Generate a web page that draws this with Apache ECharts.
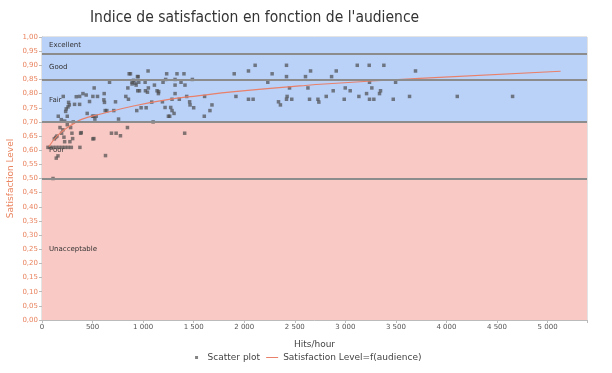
<!DOCTYPE html>
<html>
<head>
<meta charset="utf-8">
<script src="https://cdn.jsdelivr.net/npm/echarts@6/dist/echarts.min.js"></script>
<style>html,body{margin:0;padding:0;background:#fff;}#c{width:612px;height:373px;}</style>
</head>
<body>
<div id="c"></div>
<script>
const titleText = "Indice de satisfaction en fonction de l'audience";
const xName = "Hits/hour";
const yName = "Satisfaction Level";
const scatterName = "Scatter plot";
const curveName = "Satisfaction Level=f(audience)";

const hits = [59,109,122,135,148,141,158,161,178,191,194,207,210,217,224,224,234,240,250,250,257,263,270,276,283,296,303,309,322,339,372,375,382,372,405,437,447,470,500,510,513,516,523,536,549,612,615,618,628,625,641,668,687,710,727,733,757,776,829,845,855,849,862,875,891,891,905,921,931,937,944,951,957,947,964,980,1020,1023,1030,1043,1049,1052,1085,1099,1112,1138,1151,1154,1191,1197,1217,1223,1233,1250,1263,1273,1286,1286,1306,1316,1316,1316,1335,1358,1375,1404,1411,1414,1431,1460,1464,1487,1500,1605,1608,1661,1681,1901,1918,2042,2042,2088,2108,2233,2276,2339,2358,2418,2418,2448,2424,2418,2470,2606,2656,2630,2646,2729,2738,2811,2864,2880,2910,2989,2999,3048,3118,3134,3210,3236,3239,3239,3262,3282,3338,3348,3381,3474,3497,3635,3694,4107,4654,80,110,140,170,200,230,260,290,388,503,503];
const satisfaction = [0.61,0.50,0.64,0.645,0.65,0.572,0.58,0.72,0.68,0.708,0.66,0.672,0.79,0.646,0.63,0.703,0.737,0.746,0.72,0.69,0.753,0.769,0.76,0.63,0.68,0.66,0.641,0.70,0.762,0.789,0.79,0.61,0.66,0.762,0.80,0.795,0.73,0.772,0.72,0.72,0.641,0.82,0.71,0.72,0.79,0.778,0.80,0.769,0.581,0.74,0.74,0.84,0.66,0.74,0.771,0.66,0.71,0.651,0.79,0.68,0.78,0.82,0.87,0.87,0.834,0.84,0.847,0.837,0.83,0.74,0.86,0.86,0.84,0.81,0.81,0.75,0.84,0.81,0.75,0.805,0.88,0.82,0.77,0.70,0.83,0.81,0.80,0.807,0.771,0.84,0.751,0.85,0.87,0.72,0.72,0.751,0.78,0.74,0.73,0.85,0.80,0.83,0.87,0.78,0.84,0.87,0.66,0.83,0.79,0.771,0.76,0.85,0.75,0.72,0.79,0.74,0.76,0.87,0.79,0.88,0.78,0.78,0.90,0.84,0.87,0.771,0.76,0.90,0.86,0.82,0.79,0.78,0.78,0.86,0.88,0.82,0.78,0.78,0.77,0.79,0.86,0.81,0.88,0.78,0.82,0.81,0.90,0.79,0.80,0.90,0.84,0.78,0.82,0.78,0.80,0.81,0.90,0.78,0.84,0.79,0.88,0.79,0.79,0.61,0.61,0.61,0.61,0.61,0.61,0.61,0.61,0.662,0.64,0.79];

const curveX = [68,160,292,391,572,915,1227,1556,1904,2547,2794,3734,5129];
const curveY = [0.612,0.654,0.689,0.709,0.727,0.757,0.778,0.793,0.807,0.827,0.834,0.854,0.879];

const bandNames = ["Excellent","Good","Fair","Poor","Unacceptable"];
const bandLow = [0.94,0.85,0.70,0.50,0.00];
const bandHigh = [1.00,0.94,0.85,0.70,0.50];
const bandLines = [0.50,0.70,0.85,0.94];

const blue = '#bad1f8', pink = '#f8c9c5';
const orange = '#e9845f';

const chart = echarts.init(document.getElementById('c'), null, {renderer:'canvas'});
const scatterData = hits.map((h,i)=>[h, satisfaction[i]]);
const curveData = curveX.map((x,i)=>[x, curveY[i]]);
const legendIcon = 'path://M0,0L0,0M12,4L12,4M4.5,0.5h3v3h-3z';

chart.setOption({
  animation:false,
  backgroundColor:'#fff',
  title:{text:titleText,left:85,top:5,textStyle:{fontFamily:"'Liberation Sans Narrow','DejaVu Sans Condensed',sans-serif",fontSize:15.5,fontWeight:'normal',color:'#333'}},
  grid:{left:42,right:25,top:37,bottom:53,show:true,borderColor:'#c8c8c8',borderWidth:1,outerBoundsMode:'none',containLabel:false},
  legend:{bottom:6,left:'center',itemWidth:12,itemHeight:4,itemGap:6,
    textStyle:{fontSize:9,color:'#444',fontFamily:'DejaVu Sans'},
    data:[{name:scatterName,icon:legendIcon},{name:curveName,icon:'path://M0,1.5h12v1h-12z'}]},
  xAxis:{type:'value',min:0,max:5390,interval:500,name:xName,nameLocation:'middle',nameGap:20,
    nameTextStyle:{fontSize:9,color:'#444',fontFamily:'DejaVu Sans'},
    axisLine:{show:true,lineStyle:{color:'#bbb'}},axisTick:{show:true,length:3,lineStyle:{color:'#bbb'}},
    splitLine:{show:false},
    axisLabel:{fontSize:7,color:'#555',fontFamily:'DejaVu Sans',margin:4,
      formatter:v=> (v%500!==0)?'':String(v).replace(/\B(?=(\d{3})+(?!\d))/g,' ')}},
  yAxis:{type:'value',min:0,max:1,interval:0.05,name:yName,nameLocation:'middle',nameGap:27,nameMoveOverlap:false,
    nameTextStyle:{fontSize:9,color:orange,fontFamily:'DejaVu Sans'},
    axisLine:{show:true,lineStyle:{color:'#bbb'}},axisTick:{show:true,length:3,lineStyle:{color:'#bbb'}},
    splitLine:{show:false},
    axisLabel:{fontSize:7,color:orange,fontFamily:'DejaVu Sans',margin:4,formatter:v=>v.toFixed(2).replace('.',',')}},
  series:[
    {type:'line',name:'bands',data:[],silent:true,z:1,
      markArea:{silent:true,
        data:bandNames.map((n,i)=>[{yAxis:bandLow[i],name:n,itemStyle:{color:i<3?blue:pink}},{yAxis:bandHigh[i]}]),
        label:{show:true,position:'insideLeft',distance:7,fontSize:7,color:'#333',fontFamily:'DejaVu Sans'}},
      markLine:{silent:true,symbol:'none',label:{show:false},lineStyle:{color:'#8c8c8c',width:2,type:'solid'},
        data:bandLines.map(v=>({yAxis:v}))}},
    {type:'scatter',name:scatterName,data:scatterData,symbol:'rect',symbolSize:3.5,z:3,
      itemStyle:{color:'rgba(75,75,75,0.85)'}},
    {type:'line',name:curveName,data:curveData,smooth:true,showSymbol:false,symbol:'none',z:4,
      lineStyle:{color:'#e8806a',width:1.2},itemStyle:{color:'#e8806a'}}
  ]
});
</script>
</body>
</html>
